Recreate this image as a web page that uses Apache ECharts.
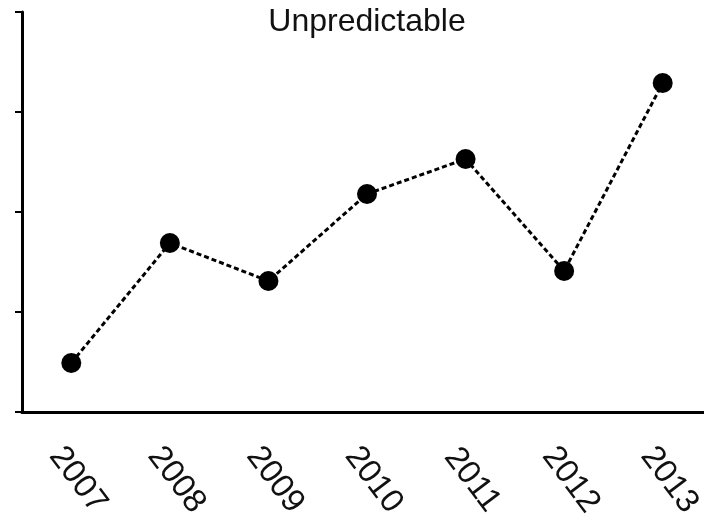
<!DOCTYPE html>
<html>
<head>
<meta charset="utf-8">
<script src="https://cdn.jsdelivr.net/npm/echarts@6/dist/echarts.min.js"></script>
<style>html,body{margin:0;padding:0;background:#fff}#c{width:704px;height:526px}</style>
</head>
<body>
<div id="c"></div>
<script>
const categories = ['2007','2008','2009','2010','2011','2012','2013'];
const values = [0.49, 1.69, 1.31, 2.18, 2.53, 1.41, 3.29];
const titleText = 'Unpredictable';

const chart = echarts.init(document.getElementById('c'));
chart.setOption({
  backgroundColor: '#fff',
  animation: false,
  title: {
    text: titleText,
    left: 367,
    top: 6,
    padding: 0,
    textAlign: 'center',
    textStyle: { fontFamily: 'Liberation Sans, Arial, sans-serif', fontSize: 32, fontWeight: 'normal', color: '#111' }
  },
  grid: { left: 22, top: 12, bottom: 114, right: -8, outerBoundsMode: 'none', containLabel: false },
  xAxis: {
    type: 'category',
    data: categories,
    boundaryGap: true,
    axisLine: { lineStyle: { color: '#000', width: 3 } },
    axisTick: { alignWithLabel: true, length: 8, lineStyle: { color: '#000', width: 2 } },
    axisLabel: {
      rotate: -53,
      margin: 59,
      align: 'center',
      verticalAlign: 'middle',
      padding: [0, 0, 0, 22],
      fontFamily: 'Liberation Sans, Arial, sans-serif',
      fontSize: 33,
      color: '#111'
    },
    splitLine: { show: false }
  },
  yAxis: {
    type: 'value',
    min: 0,
    max: 4,
    interval: 1,
    axisLine: { show: true, lineStyle: { color: '#000', width: 3 } },
    axisTick: { show: true, length: 7, lineStyle: { color: '#000', width: 2 } },
    axisLabel: { show: false },
    splitLine: { show: false }
  },
  series: [{
    type: 'line',
    data: values,
    symbol: 'circle',
    symbolSize: 20,
    itemStyle: { color: '#000' },
    lineStyle: { color: '#000', width: 3, type: [5, 3] }
  }]
});
</script>
</body>
</html>
